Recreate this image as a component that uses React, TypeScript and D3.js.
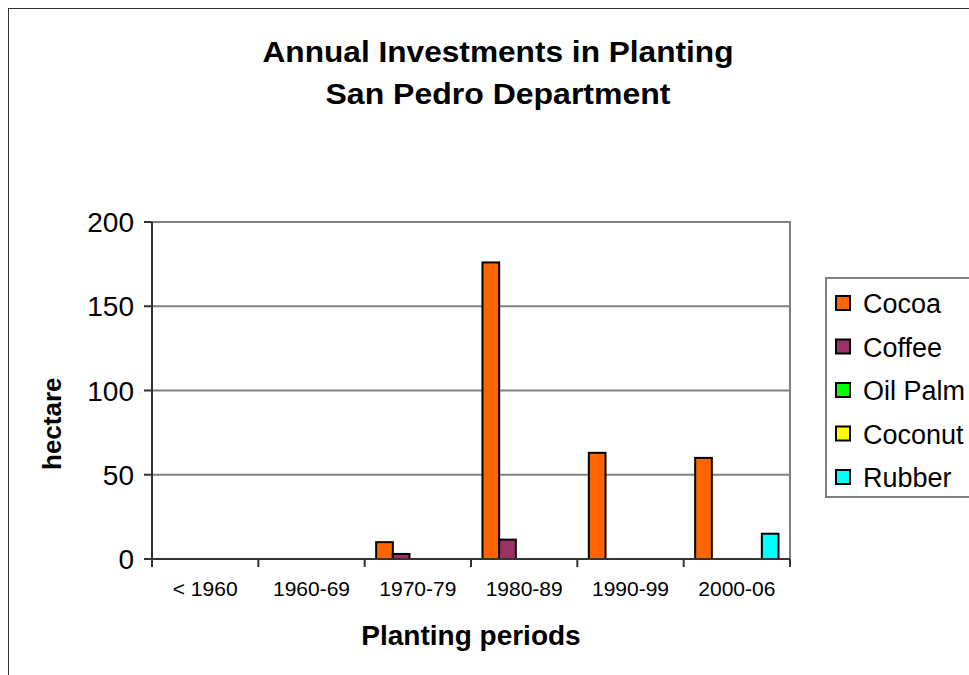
import React from 'react';
import * as d3 from 'd3';

// planting periods and hectares per crop
const periods = ['< 1960', '1960-69', '1970-79', '1980-89', '1990-99', '2000-06'];
const crops = ['Cocoa', 'Coffee', 'Oil Palm', 'Coconut', 'Rubber'];
const cropColors = ['#ff6600', '#993366', '#00ff00', '#ffff00', '#00ffff'];
const cocoa = [0, 0, 10, 176, 63, 60];
const coffee = [0, 0, 3, 11.5, 0, 0];
const oilPalm = [0, 0, 0, 0, 0, 0];
const coconut = [0, 0, 0, 0, 0, 0];
const rubber = [0, 0, 0, 0, 0, 15];
const yTicks = [0, 50, 100, 150, 200];

const series = [cocoa, coffee, oilPalm, coconut, rubber];

const FONT = '"Liberation Sans", Arial, sans-serif';

export default function App() {
  const plot = { left: 152, top: 222, right: 790, bottom: 559 };

  const x = d3.scaleBand().domain(periods).range([plot.left, plot.right]);
  const gap = 23; // excel gap width
  const inner = d3.scaleBand().domain(crops).range([gap / 2, x.bandwidth() - gap / 2]);
  const y = d3.scaleLinear().domain([0, 200]).range([plot.bottom, plot.top]);

  const bars: { key: string; x: number; y: number; w: number; h: number; fill: string }[] = [];
  series.forEach((vals, si) => {
    vals.forEach((v, pi) => {
      if (v <= 0) return;
      bars.push({
        key: crops[si] + pi,
        x: (x(periods[pi]) as number) + (inner(crops[si]) as number),
        y: y(v),
        w: inner.bandwidth(),
        h: y(0) - y(v),
        fill: cropColors[si],
      });
    });
  });

  return (
    <svg
      width={969}
      height={675}
      style={{ position: 'absolute', left: 0, top: 0, background: '#fff' }}
      fontFamily={FONT}
    >
      <defs>
        <clipPath id="yclip">
          <rect x={0} y={376} width={120} height={200} />
        </clipPath>
      </defs>
      {/* outer chart border */}
      <rect x={8.5} y={8.5} width={1100} height={1000} fill="#fff" stroke="#333" strokeWidth={1} />

      {/* title */}
      <text x={498} y={62} textAnchor="middle" fontSize={29} fontWeight="bold" textLength={471} lengthAdjust="spacingAndGlyphs">
        Annual Investments in Planting
      </text>
      <text x={498} y={104} textAnchor="middle" fontSize={29} fontWeight="bold" textLength={345} lengthAdjust="spacingAndGlyphs">
        San Pedro Department
      </text>

      {/* plot area border */}
      <rect x={plot.left} y={plot.top} width={plot.right - plot.left} height={plot.bottom - plot.top} fill="none" stroke="#808080" strokeWidth={2} />

      {/* gridlines */}
      {yTicks.map((t) => (
        <line key={'g' + t} x1={plot.left} x2={plot.right} y1={y(t)} y2={y(t)} stroke="#808080" strokeWidth={2} />
      ))}

      {/* bars */}
      {bars.map((b) => (
        <rect key={b.key} x={b.x} y={b.y} width={b.w} height={b.h} fill={b.fill} stroke="#000" strokeWidth={2} />
      ))}

      {/* y axis */}
      <line x1={plot.left} x2={plot.left} y1={plot.top} y2={plot.bottom} stroke="#333" strokeWidth={2} />
      {yTicks.map((t) => (
        <g key={'y' + t}>
          <line x1={plot.left - 8} x2={plot.left} y1={y(t)} y2={y(t)} stroke="#333" strokeWidth={2} />
          <text x={134} y={y(t) + 10} textAnchor="end" fontSize={28}>
            {t}
          </text>
        </g>
      ))}

      {/* x axis */}
      <line x1={plot.left} x2={plot.right} y1={plot.bottom} y2={plot.bottom} stroke="#333" strokeWidth={2} />
      {periods.map((p) => (
        <line key={'xt' + p} x1={x(p) as number} x2={x(p) as number} y1={plot.bottom} y2={plot.bottom + 8} stroke="#333" strokeWidth={2} />
      ))}
      <line x1={plot.right} x2={plot.right} y1={plot.bottom} y2={plot.bottom + 8} stroke="#333" strokeWidth={2} />
      {periods.map((p) => (
        <text key={'xl' + p} x={(x(p) as number) + x.bandwidth() / 2} y={596} textAnchor="middle" fontSize={21}>
          {p}
        </text>
      ))}

      {/* axis titles */}
      <text x={471} y={645} textAnchor="middle" fontSize={28} fontWeight="bold">
        Planting periods
      </text>
      <g clipPath="url(#yclip)">
        <text transform="translate(61,470) rotate(-90)" textAnchor="start" fontSize={26} fontWeight="bold">
          hectares
        </text>
      </g>

      {/* legend */}
      <rect x={826} y={278} width={200} height={219} fill="#fff" stroke="#808080" strokeWidth={2} />
      {crops.map((c, i) => (
        <g key={'lg' + c} transform={`translate(836,${303 + i * 43.5})`}>
          <rect x={0} y={-7} width={14} height={14} fill={cropColors[i]} stroke="#000" strokeWidth={2} />
          <text x={27} y={10} fontSize={27}>
            {c}
          </text>
        </g>
      ))}
    </svg>
  );
}
